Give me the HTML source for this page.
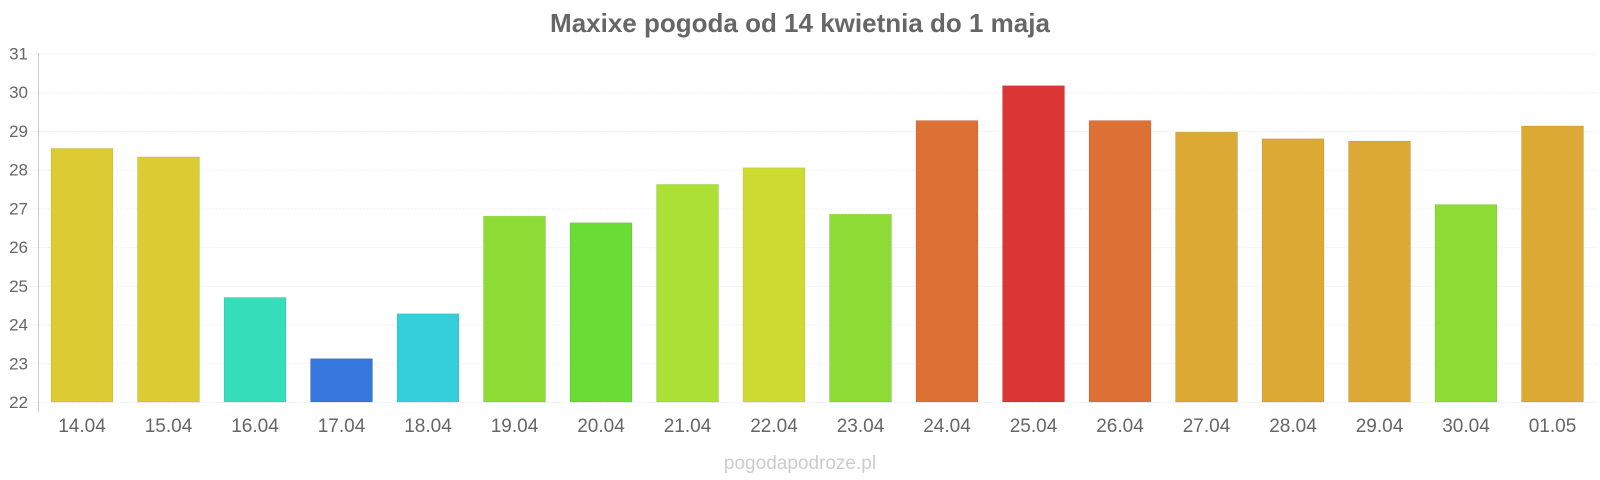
<!DOCTYPE html>
<html><head><meta charset="utf-8"><style>body{margin:0;background:#fff}svg{display:block}</style></head><body>
<svg width="1600" height="480" xmlns="http://www.w3.org/2000/svg" font-family="Liberation Sans, Arial, sans-serif">
<text x="800" y="32" text-anchor="middle" font-size="26" font-weight="bold" fill="#666">Maxixe pogoda od 14 kwietnia do 1 maja</text>
<g id="grid" stroke="#f0f0f0" stroke-width="1" stroke-dasharray="2,1"></g>
<g id="ylab" font-size="17" fill="#666" text-anchor="end"></g>
<line x1="38.5" y1="53" x2="38.5" y2="412" stroke="#ccc"/>
<g id="bars"></g>
<g id="xlab" font-size="19" fill="#666" text-anchor="middle"></g>
<text x="800" y="469" text-anchor="middle" font-size="19" fill="#ccc">pogodapodroze.pl</text>
<script>
var ns="http://www.w3.org/2000/svg";
function el(p,t,a,txt){var e=document.createElementNS(ns,t);for(var k in a)e.setAttribute(k,a[k]);if(txt!=null)e.textContent=txt;document.getElementById(p).appendChild(e);}
function Y(v){return 402-(v-22)*38.72;}
for(var v=22;v<=31;v++){el('grid','line',{x1:30,x2:1597,y1:Y(v)+.5,y2:Y(v)+.5});el('ylab','text',{x:28,y:Y(v)+6},v);}
var d=[[28.55,'#dccb32','14.04'],[28.33,'#dccb32','15.04'],[24.7,'#35ddb8','16.04'],[23.12,'#3577dc','17.04'],[24.28,'#35cfdc','18.04'],[26.8,'#8cdc35','19.04'],[26.63,'#69dc35','20.04'],[27.62,'#ade035','21.04'],[28.05,'#cedc32','22.04'],[26.85,'#8cdc35','23.04'],[29.27,'#dd7035','24.04'],[30.17,'#dc3535','25.04'],[29.27,'#dd7035','26.04'],[28.97,'#dca935','27.04'],[28.8,'#dca935','28.04'],[28.74,'#dca935','29.04'],[27.1,'#8cdc35','30.04'],[29.13,'#dca935','01.05']];
d.forEach(function(b,i){var x=51+i*86.5;el('bars','rect',{x:x,y:Y(b[0]),width:62,height:402-Y(b[0]),fill:b[1],stroke:'rgba(0,0,0,0.08)','stroke-width':1});el('xlab','text',{x:x+31,y:432},b[2]);});
</script>
</svg>
</body></html>
